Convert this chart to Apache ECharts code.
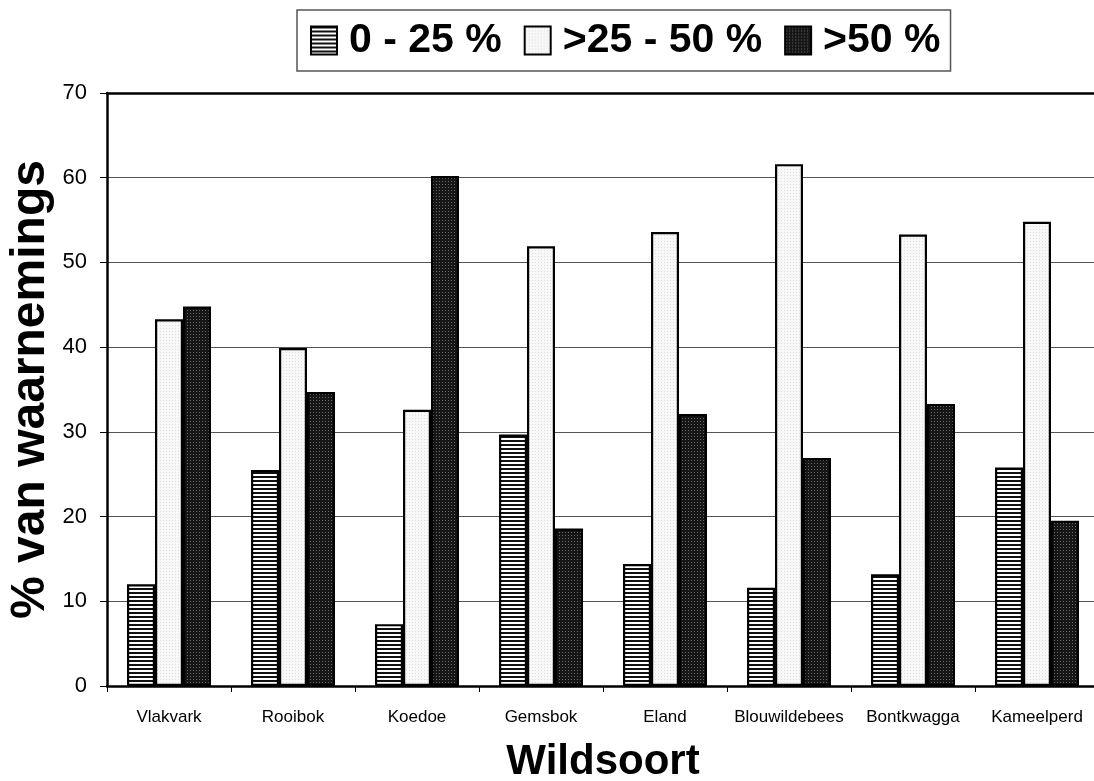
<!DOCTYPE html>
<html>
<head>
<meta charset="utf-8">
<title>Wildsoort</title>
<script src="https://cdn.jsdelivr.net/npm/echarts@6/dist/echarts.min.js"></script>
<style>
  html, body { margin: 0; padding: 0; background: #fff; overflow: hidden; }
  #chart { width: 1094px; height: 781px; }
</style>
</head>
<body>
<div id="chart"></div>
<script>
// Game species observed
const categories = ['Vlakvark', 'Rooibok', 'Koedoe', 'Gemsbok', 'Eland', 'Blouwildebees', 'Bontkwagga', 'Kameelperd'];
// Share of observations per class (%)
const seriesNames = ['0 - 25 %', '>25 - 50 %', '>50 %'];
const lowValues  = [12.0, 25.5, 7.3, 29.7, 14.4, 11.6, 13.2, 25.8];
const midValues  = [43.3, 39.9, 32.6, 51.9, 53.6, 61.6, 53.3, 54.8];
const highValues = [44.8, 34.7, 60.2, 18.6, 32.1, 26.9, 33.3, 19.5];
const yTicks = [0, 10, 20, 30, 40, 50, 60, 70];

// Fill patterns for the bars
function makePattern(w, h, paint) {
  const c = document.createElement('canvas');
  c.width = w; c.height = h;
  const ctx = c.getContext('2d');
  paint(ctx);
  return { image: c, repeat: 'repeat' };
}
const stripePattern = makePattern(4, 4, ctx => {
  ctx.fillStyle = '#111'; ctx.fillRect(0, 0, 4, 4);
  ctx.fillStyle = '#fff'; ctx.fillRect(0, 2, 4, 2);
});
const lightPattern = makePattern(3, 3, ctx => {
  ctx.fillStyle = '#f8f8f8'; ctx.fillRect(0, 0, 3, 3);
  ctx.fillStyle = '#dedede'; ctx.fillRect(1, 1, 1, 1);
});
const darkPattern = makePattern(3, 3, ctx => {
  ctx.fillStyle = '#161616'; ctx.fillRect(0, 0, 3, 3);
  ctx.fillStyle = '#6a6a6a'; ctx.fillRect(1, 1, 1, 1);
});

const FONT = '"Liberation Sans", Arial, sans-serif';

function barSeries(name, data, fill) {
  return {
    name: name,
    type: 'bar',
    data: data,
    barWidth: 28,
    barGap: '0%',
    itemStyle: { color: fill, borderColor: '#000', borderWidth: 2.2 },
    emphasis: { disabled: true }
  };
}

const chart = echarts.init(document.getElementById('chart'), null, { renderer: 'canvas' });
chart.setOption({
  animation: false,
  backgroundColor: '#fff',
  legend: {
    top: 10,
    left: 297,
    icon: 'rect',
    itemWidth: 26,
    itemHeight: 28,
    itemGap: 22,
    padding: [10, 10, 10, 13],
    borderColor: '#555',
    borderWidth: 1.5,
    selectedMode: false,
    textStyle: { fontFamily: FONT, fontSize: 41, fontWeight: 'bold', color: '#000', padding: [0, 0, 0, 7] },
    data: seriesNames
  },
  grid: { left: 107, top: 93, width: 992, height: 593, containLabel: false, outerBoundsMode: 'none' },
  xAxis: [{
    type: 'category',
    data: categories,
    axisLine: { lineStyle: { color: '#000', width: 2.5 } },
    axisTick: { show: true, length: 6, lineStyle: { color: '#000', width: 1 } },
    axisLabel: { interval: 0, fontFamily: FONT, fontSize: 17, color: '#000', margin: 23 },
    name: 'Wildsoort',
    nameLocation: 'middle',
    nameGap: 55,
    nameMoveOverlap: false,
    nameTextStyle: { fontFamily: FONT, fontSize: 42, fontWeight: 'bold', color: '#000' }
  }, {
    type: 'category',
    position: 'top',
    data: categories,
    axisLine: { lineStyle: { color: '#000', width: 2.5 } },
    axisTick: { show: false },
    axisLabel: { show: false }
  }],
  yAxis: {
    type: 'value',
    min: yTicks[0],
    max: yTicks[yTicks.length - 1],
    interval: 10,
    axisLine: { show: true, lineStyle: { color: '#000', width: 2.5 } },
    axisTick: { show: true, length: 7, lineStyle: { color: '#000', width: 1 } },
    axisLabel: { fontFamily: FONT, fontSize: 22, color: '#000', margin: 20 },
    splitLine: { show: true, lineStyle: { color: '#555', width: 1 } },
    name: '% van waarnemings',
    nameLocation: 'middle',
    nameGap: 52,
    nameMoveOverlap: false,
    nameTextStyle: { fontFamily: FONT, fontSize: 48, fontWeight: 'bold', color: '#000' }
  },
  series: [
    barSeries(seriesNames[0], lowValues, stripePattern),
    barSeries(seriesNames[1], midValues, lightPattern),
    barSeries(seriesNames[2], highValues, darkPattern)
  ]
});
</script>
</body>
</html>
